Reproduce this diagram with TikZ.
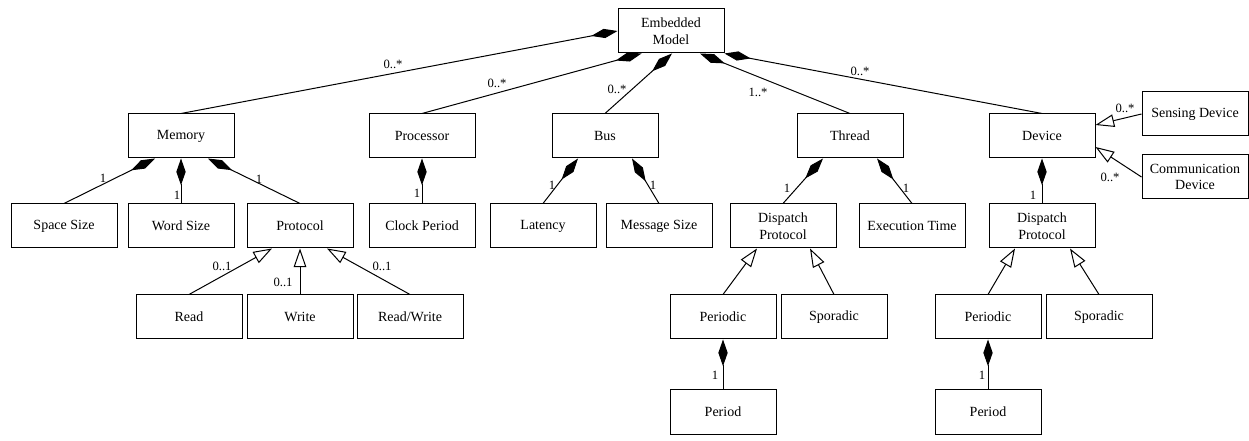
\documentclass[tikz,border=0pt]{standalone}
\usepackage{fontspec}
\setmainfont{Liberation Serif}
\usetikzlibrary{arrows.meta,calc}

\tikzset{every picture/.style={line width=0.75pt}}
\tikzset{
	cls/.style={draw, fill=white, minimum width=79.5pt, minimum height=33pt, inner sep=1pt,
		align=center, font=\fontsize{10.5}{12.5}\selectfont},
	comp/.style={{Diamond[length=20pt,width=7pt]}-},
	gen/.style={-{Triangle[open,length=14pt,width=9.5pt]}},
	mult/.style={inner sep=0.5pt, font=\fontsize{9.5}{11}\selectfont}}

\begin{document}
\begin{tikzpicture}[x=0.75pt,y=0.75pt,yscale=-1,xscale=1]
	\useasboundingbox (0,0) rectangle (1249,441);

	%Shape: Rectangle [top]
	\node [cls] (model) at (671,31) {Embedded\\Model};
	%Shape: Rectangle [second row]
	\node [cls] (memory) at (181,136) {Memory};
	\node [cls] (processor) at (422,136) {Processor};
	\node [cls] (bus) at (605,136) {Bus};
	\node [cls] (thread) at (850,136) {Thread};
	\node [cls] (device) at (1042,136) {Device};
	\node [cls] (sensing) at (1195,114) {Sensing Device};
	\node [cls] (commdev) at (1195,177) {Communication\\Device};
	%Shape: Rectangle [third row]
	\node [cls] (spacesize) at (64,226) {Space Size};
	\node [cls] (wordsize) at (181,226) {Word Size};
	\node [cls] (protocol) at (300,226) {Protocol};
	\node [cls] (clock) at (422,226) {Clock Period};
	\node [cls] (latency) at (543,226) {Latency};
	\node [cls] (msgsize) at (659,226) {Message Size};
	\node [cls] (dispatchA) at (783,226) {Dispatch\\Protocol};
	\node [cls] (exectime) at (912,226) {Execution Time};
	\node [cls] (dispatchB) at (1042,226) {Dispatch\\Protocol};
	%Shape: Rectangle [fourth row]
	\node [cls] (read) at (189,317) {Read};
	\node [cls] (write) at (300,317) {Write};
	\node [cls] (readwrite) at (410,317) {Read/Write};
	\node [cls] (periodicA) at (723,317) {Periodic};
	\node [cls] (sporadicA) at (834,317) {Sporadic};
	\node [cls] (periodicB) at (988,317) {Periodic};
	\node [cls] (sporadicB) at (1099,317) {Sporadic};
	%Shape: Rectangle [bottom]
	\node [cls] (periodA) at (723,412) {Period};
	\node [cls] (periodB) at (988,412) {Period};

	%Straight Lines [composition, from Embedded Model]
	\draw [comp] (model.west) -- (memory.north);
	\draw [comp] ($(model.south west)+(24,0)$) -- (processor.north);
	\draw [comp] ($(model.south)+(1,0)$) -- (bus.north);
	\draw [comp] ($(model.south)+(29,0)$) -- (thread.north);
	\draw [comp] (model.south east) -- (device.north);
	%Straight Lines [composition, second row]
	\draw [comp] ($(memory.south)+(-26,0)$) -- (spacesize.north);
	\draw [comp] (memory.south) -- (wordsize.north);
	\draw [comp] ($(memory.south)+(27,0)$) -- (protocol.north);
	\draw [comp] (processor.south) -- (clock.north);
	\draw [comp] ($(bus.south)+(-27,0)$) -- (latency.north);
	\draw [comp] ($(bus.south)+(27,0)$) -- (msgsize.north);
	\draw [comp] ($(thread.south)+(-27,0)$) -- (dispatchA.north);
	\draw [comp] ($(thread.south)+(27,0)$) -- (exectime.north);
	\draw [comp] (device.south) -- (dispatchB.north);
	\draw [comp] (periodicA.south) -- (periodA.north);
	\draw [comp] (periodicB.south) -- (periodB.north);

	%Straight Lines [generalization]
	\draw [gen] (read.north) -- ($(protocol.south)+(-28,0)$);
	\draw [gen] (write.north) -- (protocol.south);
	\draw [gen] (readwrite.north) -- ($(protocol.south)+(27,0)$);
	\draw [gen] (periodicA.north) -- ($(dispatchA.south)+(-26,0)$);
	\draw [gen] (sporadicA.north) -- ($(dispatchA.south)+(27,0)$);
	\draw [gen] (periodicB.north) -- ($(dispatchB.south)+(-27,0)$);
	\draw [gen] (sporadicB.north) -- ($(dispatchB.south)+(28,0)$);
	\draw [gen] (sensing.west) -- ($(device.east)+(0,-11)$);
	\draw [gen] (commdev.west) -- ($(device.east)+(0,11)$);

	% Text Node
	\node [mult] (mMemory) at (393,64) {0..*};
	\node [mult] (mProcessor) at (497,83) {0..*};
	\node [mult] (mBus) at (617,89) {0..*};
	\node [mult] (mThread) at (758,92) {1..*};
	\node [mult] (mDevice) at (860,71) {0..*};
	% Text Node
	\node [mult] (mSpace) at (103,178) {1};
	\node [mult] (mWord) at (177,195) {1};
	\node [mult] (mProtocol) at (259,179) {1};
	\node [mult] (mClock) at (417,193) {1};
	\node [mult] (mLatency) at (552,185) {1};
	\node [mult] (mMsg) at (653,185) {1};
	\node [mult] (mDispA) at (787,188) {1};
	\node [mult] (mExec) at (906,188) {1};
	\node [mult] (mDispB) at (1033,195) {1};
	\node [mult] (mPeriodA) at (715,375) {1};
	\node [mult] (mPeriodB) at (982,375) {1};
	% Text Node
	\node [mult] (mRead) at (222,266) {0..1};
	\node [mult] (mWrite) at (283,282) {0..1};
	\node [mult] (mReadWrite) at (382,266) {0..1};
	\node [mult] (mSensing) at (1125,108) {0..*};
	\node [mult] (mComm) at (1110,177) {0..*};

\end{tikzpicture}
\end{document}
